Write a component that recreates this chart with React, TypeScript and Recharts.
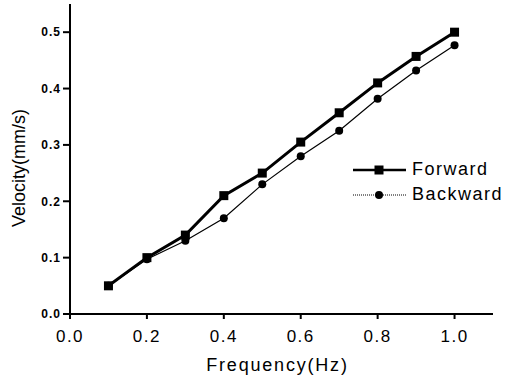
import React from 'react';
import { LineChart, Line, XAxis, YAxis } from 'recharts';

// Frecuencia (Hz) y velocidades (mm/s)
const frequency = [0.1, 0.2, 0.3, 0.4, 0.5, 0.6, 0.7, 0.8, 0.9, 1.0];
const forward = [0.05, 0.1, 0.14, 0.21, 0.25, 0.305, 0.357, 0.41, 0.457, 0.5];
const backward = [0.05, 0.097, 0.13, 0.17, 0.23, 0.28, 0.325, 0.382, 0.432, 0.477];

const xTicks = [0, 0.2, 0.4, 0.6, 0.8, 1.0];
const xMinorTicks = [0.1, 0.3, 0.5, 0.7, 0.9, 1.1];
const yTicks = [0, 0.1, 0.2, 0.3, 0.4, 0.5];
const yMinorTicks = [0.05, 0.15, 0.25, 0.35, 0.45, 0.55];

const data = frequency.map((f, i) => ({ f, forward: forward[i], backward: backward[i] }));

const FONT = '"Liberation Sans", Arial, sans-serif';

const SquareDot = (props: any) => {
    const { cx, cy } = props;
    if (cx == null || cy == null) return null;
    return <rect x={cx - 4.5} y={cy - 4.5} width={9} height={9} fill="#000" />;
};

const YLabel = (props: any) => {
    const { viewBox } = props;
    const x = viewBox.x + 19;
    const y = viewBox.y + viewBox.height / 2 + 9;
    return (
        <text x={x} y={y} transform={`rotate(-90 ${x} ${y})`} textAnchor="middle" dominantBaseline="central"
            fill="#000" fontSize={18} fontFamily={FONT}>
            Velocity(mm/s)
        </text>
    );
};

const XLabel = (props: any) => {
    const { viewBox } = props;
    const x = viewBox.x + viewBox.width / 2 - 4;
    const y = viewBox.y + 51;
    return (
        <text x={x} y={y} textAnchor="middle" dominantBaseline="central"
            fill="#000" fontSize={18} fontFamily={FONT} letterSpacing={1.8}>
            Frequency(Hz)
        </text>
    );
};

const CustomLegend = () => (
    <div style={{ position: 'absolute', left: 353, top: 157, fontFamily: FONT, fontSize: 18, letterSpacing: 1.5, color: '#000', lineHeight: '25px' }}>
        <div style={{ display: 'flex', alignItems: 'center' }}>
            <svg width={53} height={12}>
                <line x1={0} y1={6} x2={53} y2={6} stroke="#000" strokeWidth={2.5} />
                <rect x={21.5} y={1.5} width={9} height={9} fill="#000" />
            </svg>
            <span style={{ marginLeft: 6 }}>Forward</span>
        </div>
        <div style={{ display: 'flex', alignItems: 'center' }}>
            <svg width={53} height={12}>
                <line x1={0} y1={6} x2={53} y2={6} stroke="#000" strokeWidth={1} strokeDasharray="1 1" />
                <circle cx={26} cy={6} r={4} fill="#000" />
            </svg>
            <span style={{ marginLeft: 6 }}>Backward</span>
        </div>
    </div>
);

export default function App() {
    return (
        <div style={{ position: 'absolute', left: 0, top: 0, width: 505, height: 378, background: '#fff' }}>
            <LineChart width={505} height={378} data={data} margin={{ top: 4, right: 12, left: 0, bottom: 0 }}>
                <XAxis
                    dataKey="f"
                    type="number"
                    domain={[0, 1.1]}
                    ticks={xTicks}
                    tickFormatter={(v: number) => v.toFixed(1)}
                    height={64}
                    stroke="#000"
                    strokeWidth={2}
                    tickSize={5}
                    tick={{ fill: '#000', fontSize: 17, fontFamily: FONT, dy: 9, letterSpacing: 1.5 }}
                    label={<XLabel />}
                    allowDataOverflow
                />
                <XAxis
                    xAxisId="minor"
                    dataKey="f"
                    type="number"
                    domain={[0, 1.1]}
                    ticks={xMinorTicks}
                    tick={false}
                    height={0}
                    axisLine={false}
                    stroke="#000"
                    tickSize={3}
                    tickLine={{ stroke: '#000', strokeWidth: 1.5 }}
                    allowDataOverflow
                />
                <YAxis
                    type="number"
                    domain={[0, 0.55]}
                    ticks={yTicks}
                    tickFormatter={(v: number) => v.toFixed(1)}
                    width={70}
                    stroke="#000"
                    strokeWidth={2}
                    tickSize={7}
                    tick={{ fill: '#000', fontSize: 12, fontWeight: 'bold', fontFamily: FONT, letterSpacing: 1 }}
                    label={<YLabel />}
                    allowDataOverflow
                />
                <YAxis
                    yAxisId="minor"
                    type="number"
                    domain={[0, 0.55]}
                    ticks={yMinorTicks}
                    tick={false}
                    width={0}
                    axisLine={false}
                    stroke="#000"
                    tickSize={4}
                    tickLine={{ stroke: '#000', strokeWidth: 1.5 }}
                    allowDataOverflow
                />
                <Line
                    dataKey="forward"
                    stroke="#000"
                    strokeWidth={3}
                    dot={<SquareDot />}
                    activeDot={false}
                    isAnimationActive={false}
                />
                <Line
                    dataKey="backward"
                    stroke="#000"
                    strokeWidth={1.2}
                    dot={{ r: 4, fill: '#000', stroke: 'none' }}
                    activeDot={false}
                    isAnimationActive={false}
                />
            </LineChart>
            <CustomLegend />
        </div>
    );
}
